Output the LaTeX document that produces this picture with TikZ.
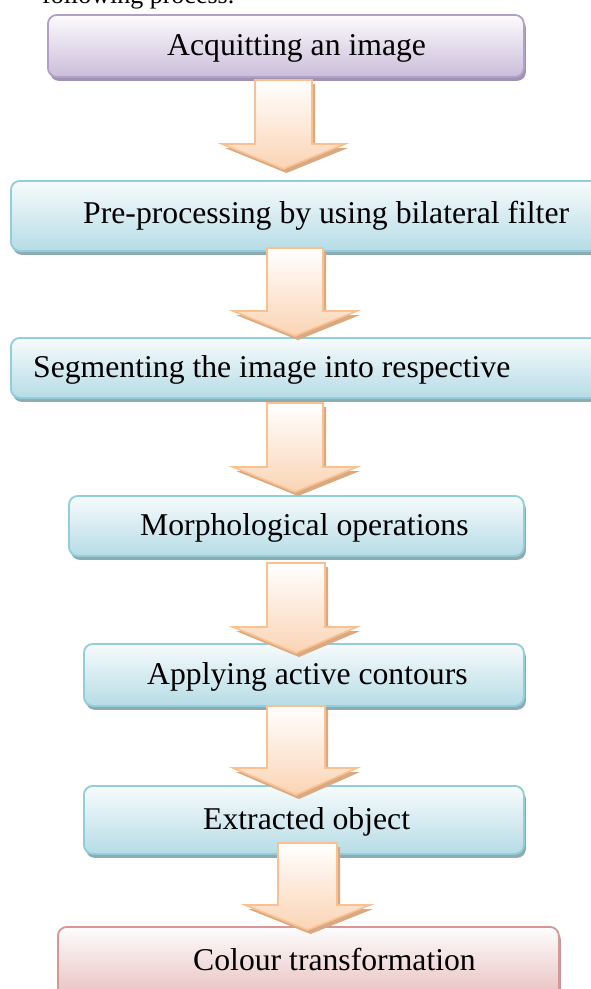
\documentclass[tikz,border=0pt]{standalone}
\usepackage{fontspec}
\setmainfont{Liberation Serif}
\usetikzlibrary{shadows}
\definecolor{pborder}{HTML}{B2A1C7}
\definecolor{ptop}{HTML}{FCFBFD}
\definecolor{pbot}{HTML}{CBBDDA}
\definecolor{pshadow}{HTML}{A092B0}
\definecolor{bborder}{HTML}{92CDDC}
\definecolor{btop}{HTML}{F7FBFC}
\definecolor{bbot}{HTML}{B6DCE6}
\definecolor{bshadow}{HTML}{8FABB2}
\definecolor{rborder}{HTML}{D99694}
\definecolor{rtop}{HTML}{FDFDFD}
\definecolor{rbot}{HTML}{E6B8B7}
\definecolor{rshadow}{HTML}{C39896}
\definecolor{aborder}{HTML}{FAC090}
\definecolor{abot}{HTML}{FBD4B4}
\definecolor{ashadow}{HTML}{D9A982}
\newcommand\blockarrow[7]{%
  \path[blockarrowstyle] (#1,#3) -- (#2,#3) -- (#2,#4) -- (#6,#4)
    -- ({(#1+#2)/2},#7) -- (#5,#4) -- (#1,#4) -- cycle;}
\begin{document}
\begin{tikzpicture}[x=1pt,y=-1pt,
  box/.style={draw, line width=1.8pt, rounded corners=9pt, inner sep=0pt, anchor=north west},
  purplebox/.style={box, draw=pborder, top color=ptop, bottom color=pbot,
    drop shadow={shadow xshift=2pt, shadow yshift=-4pt, fill=pshadow, opacity=1}},
  bluebox/.style={box, draw=bborder, top color=btop, bottom color=bbot,
    drop shadow={shadow xshift=2pt, shadow yshift=-4pt, fill=bshadow, opacity=1}},
  pinkbox/.style={box, draw=rborder, top color=rtop, bottom color=rbot,
    drop shadow={shadow xshift=2pt, shadow yshift=-4pt, fill=rshadow, opacity=1}},
  blockarrowstyle/.style={draw=aborder, line width=1.6pt, line join=miter,
    top color=white, bottom color=abot,
    drop shadow={shadow xshift=3pt, shadow yshift=-4pt, fill=ashadow, opacity=1}},
  lbl/.style={anchor=base west, inner sep=0pt, font=\fontsize{31.7}{38}\selectfont},
]
\useasboundingbox (0,0) rectangle (590,989);
% partial body text at top
\node[anchor=base west, inner sep=0pt, font=\fontsize{26}{31}\selectfont] (intro) at (42,3) {following process.};
% boxes
\node[purplebox, minimum width=476pt, minimum height=62pt] (b1) at (47,14) {};
\node[bluebox, minimum width=610pt, minimum height=70pt] (b2) at (10,180) {};
\node[bluebox, minimum width=610pt, minimum height=60pt] (b3) at (10,337) {};
\node[bluebox, minimum width=455pt, minimum height=60pt] (b4) at (68,495) {};
\node[bluebox, minimum width=440pt, minimum height=62pt] (b5) at (83,643) {};
\node[bluebox, minimum width=440pt, minimum height=68pt] (b6) at (83,785) {};
\node[pinkbox, minimum width=501pt, minimum height=80pt] (b7) at (57,926) {};
% labels
\node[lbl] (t1) at (167,55) {Acquitting an image};
\node[lbl] (t2) at (83,223) {Pre-processing by using bilateral filter};
\node[lbl] (t3) at (33,377) {Segmenting the image into respective};
\node[lbl] (t4) at (140,535) {Morphological operations};
\node[lbl] (t5) at (147,684) {Applying active contours};
\node[lbl] (t6) at (203,829) {Extracted object};
\node[lbl] (t7) at (193,970) {Colour transformation};
% block arrows
\blockarrow{255}{312}{80}{144}{222}{345}{169}
\blockarrow{267}{323}{248}{311}{233}{357}{336}
\blockarrow{267}{323}{403}{467}{233}{357}{492}
\blockarrow{267}{325}{563}{627}{233}{357}{653}
\blockarrow{267}{325}{706}{768}{233}{357}{795}
\blockarrow{278}{337}{843}{905}{245}{370}{930}
\end{tikzpicture}
\end{document}
